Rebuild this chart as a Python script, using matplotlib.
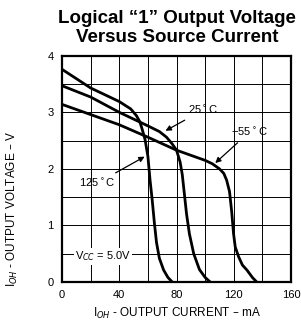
import matplotlib.pyplot as plt

plt.rcParams['font.family'] = ['Liberation Sans', 'DejaVu Sans']

# I_OH (mA) vs V_OH (V) for each temperature
i_125 = [0, 20, 40, 48, 52, 54.4, 56, 58, 60, 61.5, 63, 64.5, 66, 68, 71, 74, 77]
v_125 = [3.76, 3.43, 3.19, 3.06, 2.94, 2.83, 2.70, 2.52, 2.22, 1.80, 1.45, 1.05, 0.70, 0.42, 0.21, 0.08, 0.0]

i_25 = [0, 20, 40, 60, 68, 73, 77, 80, 82.5, 84, 85.5, 87, 89, 92, 96, 100, 103.5]
v_25 = [3.47, 3.27, 3.00, 2.76, 2.66, 2.56, 2.44, 2.33, 2.12, 1.90, 1.55, 1.20, 0.85, 0.50, 0.22, 0.08, 0.0]

i_m55 = [0, 20, 40, 60, 80, 100, 105, 110, 113, 115, 117, 118.5, 119.8, 121, 123.3, 126, 129.2, 133, 136]
v_m55 = [3.14, 2.96, 2.78, 2.56, 2.33, 2.15, 2.09, 2.00, 1.92, 1.80, 1.60, 1.25, 0.86, 0.62, 0.45, 0.30, 0.21, 0.08, 0.0]

x_ticks = [0, 40, 80, 120, 160]
y_ticks = [0, 1, 2, 3, 4]

fig = plt.figure(figsize=(3.01, 3.26), dpi=100)
ax = fig.add_axes([0.206, 0.135, 0.761, 0.694])

for xv in range(0, 161, 20):
    ax.axvline(xv, color='black', lw=0.7, zorder=1)
for yv in [0.5 * k for k in range(9)]:
    ax.axhline(yv, color='black', lw=0.7, zorder=1)

for xs, ys in [(i_125, v_125), (i_25, v_25), (i_m55, v_m55)]:
    ax.plot(xs, ys, color='black', lw=2.0, solid_capstyle='round', zorder=3)

ax.set_xlim(0, 160)
ax.set_ylim(0, 4)
ax.set_xticks(x_ticks)
ax.set_yticks(y_ticks)
ax.tick_params(length=0, labelsize=8, pad=6)
for s in ax.spines.values():
    s.set_linewidth(1.6)

arrow = dict(arrowstyle='-|>', color='black', lw=0.9, mutation_scale=8)
ax.annotate('25$^\\circ$C', xy=(70.6, 2.65), xytext=(88, 3.04), fontsize=8,
            va='center', ha='left', arrowprops=arrow, zorder=4)
ax.annotate('\u221255$^\\circ$C', xy=(105.6, 2.07), xytext=(118, 2.65), fontsize=8,
            va='center', ha='left', arrowprops=arrow, zorder=4)
ax.annotate('125$^\\circ$C', xy=(59.4, 2.24), xytext=(12, 1.75), fontsize=8,
            va='center', ha='left', arrowprops=arrow, zorder=4)
ax.text(9, 0.45, 'V$_{CC}$ = 5.0V', fontsize=8, va='center', ha='left',
        bbox=dict(facecolor='white', edgecolor='none', pad=1), zorder=4)

fig.text(0.588, 0.915, 'Logical \u201c1\u201d Output Voltage\nVersus Source Current',
         ha='center', va='center', fontsize=13.5, fontweight='bold', linespacing=1.15)
ax.set_xlabel('I$_{OH}$ - OUTPUT CURRENT \u2013 mA', fontsize=8.5, labelpad=4)
fig.text(0.04, 0.36, 'I$_{OH}$ - OUTPUT VOLTAGE \u2013 V', fontsize=8.5,
         rotation=90, ha='center', va='center')

fig.savefig('out.png', dpi=100)
